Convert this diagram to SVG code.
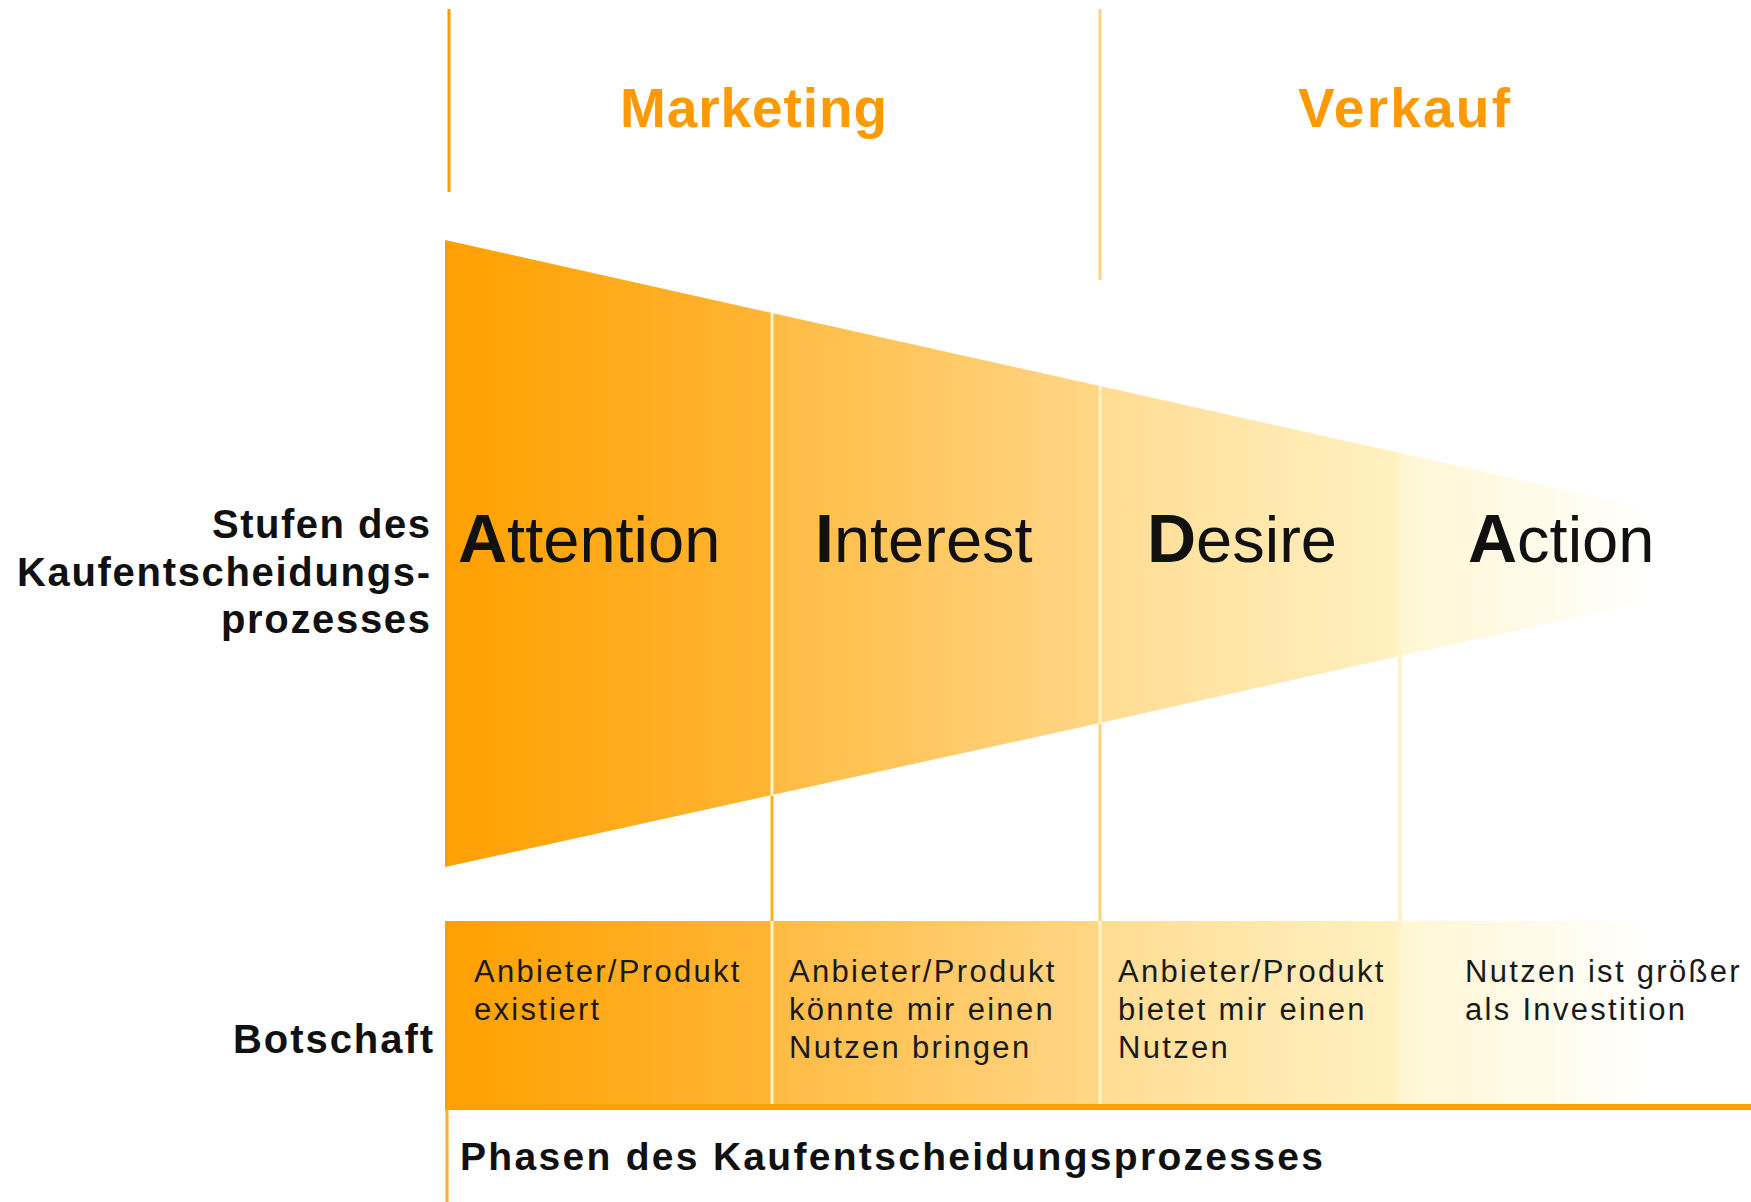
<svg xmlns="http://www.w3.org/2000/svg" width="1751" height="1202" viewBox="0 0 1751 1202">
  <defs>
    <!-- one horizontal ramp shared by the funnel and the message row -->
    <linearGradient id="ramp" gradientUnits="userSpaceOnUse" x1="445" y1="0" x2="1660" y2="0">
      <stop offset="0" stop-color="#FFA000"/>
      <stop offset="0.269" stop-color="#FFB534"/>
      <stop offset="0.27" stop-color="#FFBB42"/>
      <stop offset="0.539" stop-color="#FFD686"/>
      <stop offset="0.54" stop-color="#FFDC92"/>
      <stop offset="0.786" stop-color="#FFF1C2"/>
      <stop offset="0.787" stop-color="#FFF6D2"/>
      <stop offset="1" stop-color="#FFFFFF"/>
    </linearGradient>
    <style>
      .sec { fill: url(#ramp); }
      .sep { stroke: #FFF3CC; stroke-width: 3; }
      .hdr { font-family: "Liberation Sans", Arial, sans-serif; font-weight: bold; font-size: 55px; fill: #FF9900; }
      .stage { font-family: "Liberation Sans", Arial, sans-serif; font-size: 65px; fill: #111111; }
      .stage .ini { font-weight: bold; font-size: 68px; }
      .side { font-family: "Liberation Sans", Arial, sans-serif; font-weight: bold; font-size: 40px; fill: #111111; text-anchor: end; }
      .msg { font-family: "Liberation Sans", Arial, sans-serif; font-size: 31px; fill: #1A1A1A; letter-spacing: 2.3px; }
      .phase { font-family: "Liberation Sans", Arial, sans-serif; font-weight: bold; font-size: 39px; fill: #111111; }
    </style>
  </defs>

  <rect width="1751" height="1202" fill="#FFFFFF"/>

  <!-- column header: Marketing / Verkauf -->
  <g id="header">
    <line x1="449" y1="9" x2="449" y2="192" stroke="#FF9A00" stroke-width="3"/>
    <line x1="1100" y1="9" x2="1100" y2="280" stroke="#FFD27C" stroke-width="3"/>
    <text class="hdr" x="620" y="127" textLength="267" lengthAdjust="spacing">Marketing</text>
    <text class="hdr" x="1298" y="127" textLength="212" lengthAdjust="spacing">Verkauf</text>
  </g>

  <!-- row labels -->
  <g id="label-stufen">
    <text class="side" x="430" y="538" textLength="218" lengthAdjust="spacing">Stufen des</text>
    <text class="side" x="430" y="586" textLength="413" lengthAdjust="spacing">Kaufentscheidungs-</text>
    <text class="side" x="430" y="633" textLength="209" lengthAdjust="spacing">prozesses</text>
  </g>
  <g id="label-botschaft">
    <text class="side" x="433" y="1053" textLength="200" lengthAdjust="spacing">Botschaft</text>
  </g>

  <!-- funnel stages -->
  <g id="stage-attention">
    <polygon class="sec" points="445,240 772,313 772,795 445,867"/>
    <rect class="sec" x="445" y="921" width="327" height="183"/>
    <text class="stage" x="458" y="562"><tspan class="ini">A</tspan>ttention</text>
    <text class="msg" x="474" y="982">Anbieter/Produkt</text>
    <text class="msg" x="474" y="1020">existiert</text>
  </g>
  <g id="stage-interest">
    <polygon class="sec" points="772,313 1100,386 1100,723 772,795"/>
    <rect class="sec" x="772" y="921" width="328" height="183"/>
    <text class="stage" x="815" y="562"><tspan class="ini">I</tspan>nterest</text>
    <text class="msg" x="789" y="982">Anbieter/Produkt</text>
    <text class="msg" x="789" y="1020">könnte mir einen</text>
    <text class="msg" x="789" y="1058">Nutzen bringen</text>
  </g>
  <g id="stage-desire">
    <polygon class="sec" points="1100,386 1400,453 1400,656 1100,723"/>
    <rect class="sec" x="1100" y="921" width="300" height="183"/>
    <text class="stage" x="1147" y="562"><tspan class="ini">D</tspan>esire</text>
    <text class="msg" x="1118" y="982">Anbieter/Produkt</text>
    <text class="msg" x="1118" y="1020">bietet mir einen</text>
    <text class="msg" x="1118" y="1058">Nutzen</text>
  </g>
  <g id="stage-action">
    <polygon class="sec" points="1400,453 1700,520 1700,590 1400,656"/>
    <rect class="sec" x="1400" y="921" width="351" height="183"/>
    <text class="stage" x="1468" y="562"><tspan class="ini">A</tspan>ction</text>
    <text class="msg" x="1465" y="982">Nutzen ist größer</text>
    <text class="msg" x="1465" y="1020">als Investition</text>
  </g>

  <!-- separators between the stages and the base axis -->
  <g id="connectors">
    <line class="sep" x1="772" y1="313" x2="772" y2="1104"/>
    <line class="sep" x1="1100" y1="386" x2="1100" y2="1104"/>
    <line class="sep" x1="1400" y1="453" x2="1400" y2="1104"/>
    <line x1="772" y1="796" x2="772" y2="921" stroke="#FFAE22" stroke-width="3"/>
    <line x1="1100" y1="724" x2="1100" y2="921" stroke="#FFD27C" stroke-width="3"/>
    <line x1="1400" y1="657" x2="1400" y2="921" stroke="#FFF1C4" stroke-width="3"/>
    <line x1="445" y1="1107" x2="1751" y2="1107" stroke="#FFA000" stroke-width="6"/>
    <line x1="447" y1="1110" x2="447" y2="1202" stroke="#FFB030" stroke-width="3"/>
  </g>

  <g id="phase-label">
    <text class="phase" x="460" y="1170" textLength="863" lengthAdjust="spacing">Phasen des Kaufentscheidungsprozesses</text>
  </g>
</svg>
